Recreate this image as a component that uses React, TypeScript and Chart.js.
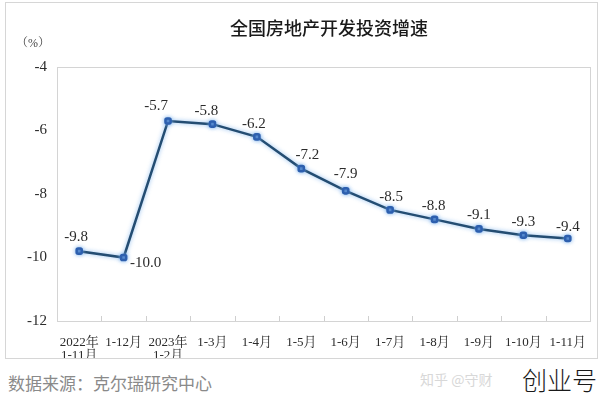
import React, { useEffect, useRef } from "react";
import { Chart, registerables } from "chart.js";

Chart.register(...registerables);

const TITLE = "全国房地产开发投资增速";
const UNIT = "（%）";
const SOURCE = "数据来源：克尔瑞研究中心";
const WATERMARK = "知乎 @守财";
const BRAND = "创业号";

const CATEGORIES: (string | string[])[] = [
  ["2022年", "1-11月"],
  "1-12月",
  ["2023年", "1-2月"],
  "1-3月",
  "1-4月",
  "1-5月",
  "1-6月",
  "1-7月",
  "1-8月",
  "1-9月",
  "1-10月",
  "1-11月",
];
const VALUES = [-9.8, -10.0, -5.7, -5.8, -6.2, -7.2, -7.9, -8.5, -8.8, -9.1, -9.3, -9.4];
const Y_MIN = -12;
const Y_MAX = -4;
const Y_STEP = 2;

// label offsets (dx, dy) relative to point, styling only
const LABEL_OFFSETS: [number, number][] = [
  [-3, -14], [22, 6], [-12, -15], [-6, -13], [-3, -13], [6, -14],
  [0, -17], [1, -13], [-1, -13], [0, -14], [0, -13], [0, -11],
];

const SERIF = "'Liberation Serif', 'Times New Roman', 'Noto Serif CJK SC', 'Noto Sans CJK SC', serif";
const CJK = "'Noto Sans CJK SC', 'Noto Sans', sans-serif";

const framePlugin = {
  id: "frame",
  beforeDatasetsDraw(chart: any) {
    const { ctx, chartArea, scales } = chart;
    ctx.save();
    ctx.strokeStyle = "#d4d4d4";
    ctx.lineWidth = 1;
    ctx.strokeRect(
      Math.round(chartArea.left) + 0.5,
      Math.round(chartArea.top) + 0.5,
      Math.round(chartArea.right - chartArea.left),
      Math.round(chartArea.bottom - chartArea.top)
    );
    // inner ticks at category boundaries
    const xs = scales.x;
    ctx.strokeStyle = "#cfcfcf";
    for (let i = 1; i < CATEGORIES.length; i++) {
      const x = Math.round((xs.getPixelForValue(i - 1) + xs.getPixelForValue(i)) / 2) + 0.5;
      ctx.beginPath();
      ctx.moveTo(x, chartArea.bottom);
      ctx.lineTo(x, chartArea.bottom - 5);
      ctx.stroke();
    }
    ctx.restore();
  },
  beforeDatasetDraw(chart: any) {
    const ctx = chart.ctx;
    ctx.save();
    ctx.shadowColor = "rgba(120,175,235,0.85)";
    ctx.shadowBlur = 4;
  },
  afterDatasetDraw(chart: any) {
    chart.ctx.restore();
  },
  afterDatasetsDraw(chart: any) {
    const { ctx } = chart;
    const meta = chart.getDatasetMeta(0);
    ctx.save();
    ctx.font = `15px ${SERIF}`;
    ctx.fillStyle = "#2b2b2b";
    ctx.textAlign = "center";
    ctx.textBaseline = "middle";
    meta.data.forEach((pt: any, i: number) => {
      const [dx, dy] = LABEL_OFFSETS[i];
      ctx.fillText(VALUES[i].toFixed(1), pt.x + dx, pt.y + dy);
    });
    ctx.restore();
  },
};

function ChartCanvas() {
  const ref = useRef<HTMLCanvasElement>(null);
  useEffect(() => {
    if (!ref.current) return;
    const chart = new Chart(ref.current, {
      type: "line",
      data: {
        labels: CATEGORIES as any,
        datasets: [
          {
            data: VALUES,
            borderColor: "#244d72",
            borderWidth: 2.5,
            pointBackgroundColor: "#2d5fae",
            pointBorderColor: "#2d5fae",
            pointRadius: 3,
            pointStyle: "rectRounded",
            tension: 0,
          },
        ],
      },
      options: {
        animation: false,
        responsive: false,
        maintainAspectRatio: false,
        layout: { padding: { top: 64, right: 7, bottom: 0, left: 0 } },
        plugins: { legend: { display: false }, tooltip: { enabled: false }, title: { display: false } },
        scales: {
          x: {
            type: "category",
            offset: true,
            grid: { display: false, offset: true },
            border: { display: false },
            ticks: {
              padding: 7,
              maxRotation: 0,
              autoSkip: false,
              color: "#2b2b2b",
              font: { family: SERIF, size: 13, lineHeight: 1.0 },
            },
            afterFit(scale: any) {
              scale.height = 37;
            },
          },
          y: {
            min: Y_MIN,
            max: Y_MAX,
            grid: { display: false, drawTicks: false },
            border: { display: false },
            ticks: {
              stepSize: Y_STEP,
              padding: 10,
              color: "#2b2b2b",
              font: { family: SERIF, size: 15 },
            },
            afterFit(scale: any) {
              scale.width = 51;
            },
          },
        },
      },
      plugins: [framePlugin],
    });
    return () => chart.destroy();
  }, []);
  return <canvas ref={ref} width={591} height={355} style={{ width: 591, height: 355, display: "block" }} />;
}

export default function App() {
  return (
    <div style={{ position: "fixed", left: 0, top: 0, width: 600, height: 399, background: "#fff", overflow: "hidden" }}>
      <div
        style={{
          position: "absolute",
          left: 5,
          top: 2,
          width: 593,
          height: 357,
          boxSizing: "border-box",
          border: "1px solid #d6d6d6",
        }}
      >
        <ChartCanvas />
      </div>
      <div
        style={{
          position: "absolute",
          left: 230,
          top: 14,
          fontFamily: CJK,
          fontSize: 18,
          fontWeight: 500,
          lineHeight: "26px",
          color: "#1a1a1a",
          whiteSpace: "nowrap",
        }}
      >
        {TITLE}
      </div>
      <div
        style={{
          position: "absolute",
          left: 16,
          top: 35,
          fontFamily: SERIF,
          fontSize: 12,
          lineHeight: "16px",
          color: "#444",
          whiteSpace: "nowrap",
        }}
      >
        {UNIT}
      </div>
      <div
        style={{
          position: "absolute",
          left: 8,
          top: 371,
          fontFamily: CJK,
          fontSize: 17,
          lineHeight: "24px",
          color: "#8a8a8a",
          whiteSpace: "nowrap",
        }}
      >
        {SOURCE}
      </div>
      <div
        style={{
          position: "absolute",
          left: 420,
          top: 369,
          fontFamily: CJK,
          fontSize: 14,
          lineHeight: "20px",
          color: "#d8d8d8",
          whiteSpace: "nowrap",
        }}
      >
        {WATERMARK}
      </div>
      <div
        style={{
          position: "absolute",
          left: 522,
          top: 363,
          fontFamily: CJK,
          fontSize: 25,
          fontWeight: 300,
          lineHeight: "32px",
          color: "#1a1a1a",
          background: "#fff",
          whiteSpace: "nowrap",
        }}
      >
        {BRAND}
      </div>
    </div>
  );
}
